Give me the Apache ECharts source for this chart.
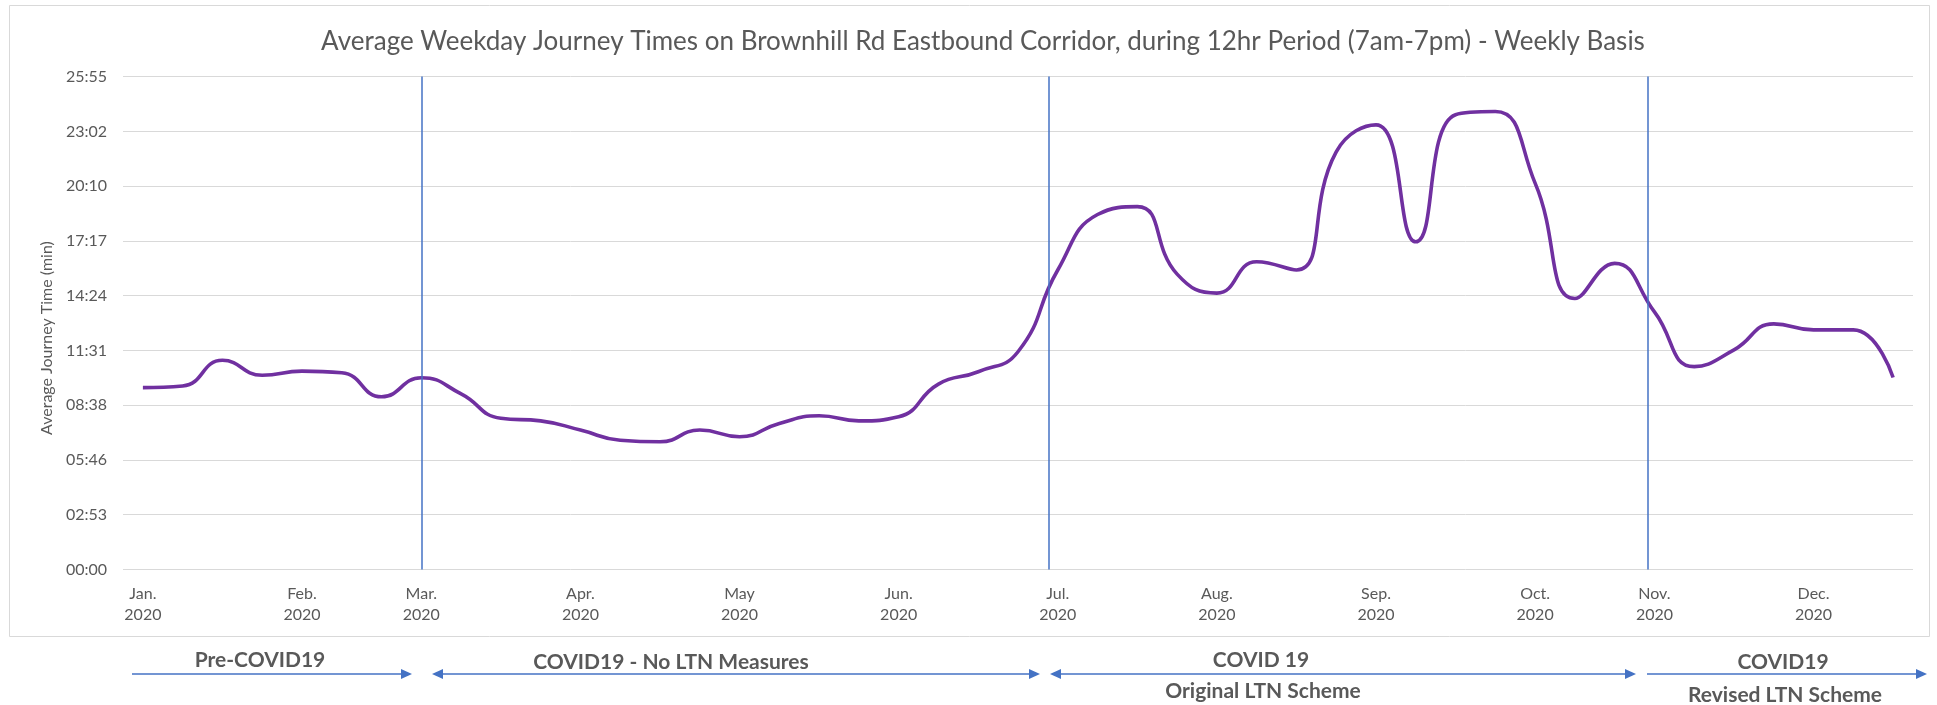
<!DOCTYPE html>
<html>
<head>
<meta charset="utf-8">
<title>Brownhill Rd Eastbound journey times</title>
<script src="https://cdn.jsdelivr.net/npm/echarts@6/dist/echarts.min.js"></script>
<style>
  html, body { margin: 0; padding: 0; background: #fff; }
  #chart { width: 1937px; height: 705px; }
</style>
</head>
<body>
<div id="chart"></div>
<script>
// weekly averages, Jan 2020 -> late Dec 2020, journey time in seconds
const journeySeconds = [
  574, 579, 660, 613, 626, 621, 545, 605, 554, 477, 469, 440,
  408, 403, 440, 419, 461, 485, 469, 482, 585, 624, 687, 945,
  1120, 1145, 932, 872, 971, 945, 1318, 1403, 1034, 1435, 1445, 1219,
  855, 966, 813, 640, 693, 775, 756, 756, 606
]

// week index that carries each month label
const monthWeeks = [0, 4, 7, 11, 15, 19, 23, 27, 31, 35, 38, 42]
const monthNames = ['Jan.', 'Feb.', 'Mar.', 'Apr.', 'May', 'Jun.', 'Jul.', 'Aug.', 'Sep.', 'Oct.', 'Nov.', 'Dec.']
const labelYear = '2020'

// excel time axis: major unit 0.002 day = 172.8 s
const yStep = 172.8
const yMax = 1555.2

// scheme boundaries (week index) and the phase captions under the chart
const phaseBreaks = [7, 22.78, 37.82]
const phaseTitles = ['Pre-COVID19', 'COVID19 - No LTN Measures', 'COVID 19', 'COVID19']
const phaseSubtitles = ['', '', 'Original LTN Scheme', 'Revised LTN Scheme']

const FONT = 'Lato'
const GREY = '#595959'
const BLUE = '#4472C4'

function pad(n) { return (n < 10 ? '0' : '') + n }
function mmss(v) {
  const s = Math.round(v)
  return pad(Math.floor(s / 60)) + ':' + pad(s % 60)
}

// arrow drawn as a line plus triangle heads
function arrow(x1, x2, y, headLeft, headRight) {
  const kids = [{
    type: 'line',
    shape: { x1: headLeft ? x1 + 8 : x1, y1: y, x2: headRight ? x2 - 8 : x2, y2: y },
    style: { stroke: BLUE, lineWidth: 1.5 }
  }]
  if (headRight) kids.push({ type: 'polygon', shape: { points: [[x2, y], [x2 - 11, y - 5], [x2 - 11, y + 5]] }, style: { fill: BLUE } })
  if (headLeft) kids.push({ type: 'polygon', shape: { points: [[x1, y], [x1 + 11, y - 5], [x1 + 11, y + 5]] }, style: { fill: BLUE } })
  return { type: 'group', silent: true, children: kids }
}

function caption(text, x, y) {
  return {
    type: 'text', x: x, y: y, silent: true,
    style: { text: text, fill: GREY, font: 'bold 21px ' + FONT, align: 'center', verticalAlign: 'middle' }
  }
}

const chart = echarts.init(document.getElementById('chart'))

const option = {
  animation: false,
  backgroundColor: '#fff',
  textStyle: { fontFamily: FONT },
  title: {
    text: 'Average Weekday Journey Times on Brownhill Rd Eastbound Corridor, during 12hr Period (7am-7pm) - Weekly Basis',
    left: 978, top: 24, textAlign: 'center',
    textStyle: { fontFamily: FONT, fontSize: 26, fontWeight: 'normal', color: GREY }
  },
  grid: { left: 123, right: 24, top: 76.6, bottom: 135.5 },
  xAxis: {
    type: 'value', min: -0.5, max: journeySeconds.length - 0.5,
    axisLine: { show: false }, axisTick: { show: false }, splitLine: { show: false },
    axisLabel: {
      customValues: monthWeeks,
      formatter: v => monthNames[monthWeeks.indexOf(v)] + '\n' + labelYear,
      color: GREY, fontSize: 16, lineHeight: 21, margin: 14
    }
  },
  yAxis: {
    type: 'value', min: 0, max: yMax, interval: yStep,
    name: 'Average Journey Time (min)', nameLocation: 'middle', nameGap: 62,
    nameTextStyle: { color: GREY, fontSize: 16, padding: [0, 30, 0, 0] },
    axisLine: { show: false }, axisTick: { show: false },
    axisLabel: { formatter: mmss, color: GREY, fontSize: 16, margin: 16 },
    splitLine: { lineStyle: { color: '#D9D9D9', width: 1 } }
  },
  series: [{
    type: 'line',
    data: journeySeconds.map((v, i) => [i, v]),
    smooth: 0.5,
    symbol: 'none',
    lineStyle: { color: '#7030A0', width: 3.6 },
    markLine: {
      silent: true, symbol: ['none', 'none'], label: { show: false },
      lineStyle: { color: BLUE, width: 1.5, type: 'solid' },
      data: phaseBreaks.map(x => ({ xAxis: x }))
    }
  }],
  graphic: [
    { type: 'rect', silent: true, shape: { x: 9.5, y: 5.5, width: 1920, height: 631 }, style: { fill: 'none', stroke: '#D9D9D9', lineWidth: 1 } },
    caption(phaseTitles[0], 260, 660),
    caption(phaseTitles[1], 671, 662),
    caption(phaseTitles[2], 1261, 660),
    caption(phaseSubtitles[2], 1263, 691),
    caption(phaseTitles[3], 1783, 662),
    caption(phaseSubtitles[3], 1785, 695),
    arrow(132, 412, 674, false, true),
    arrow(432, 1040, 674, true, true),
    arrow(1050, 1636, 674, true, true),
    arrow(1647, 1927, 674, false, true)
  ]
}

chart.setOption(option)
</script>
</body>
</html>
